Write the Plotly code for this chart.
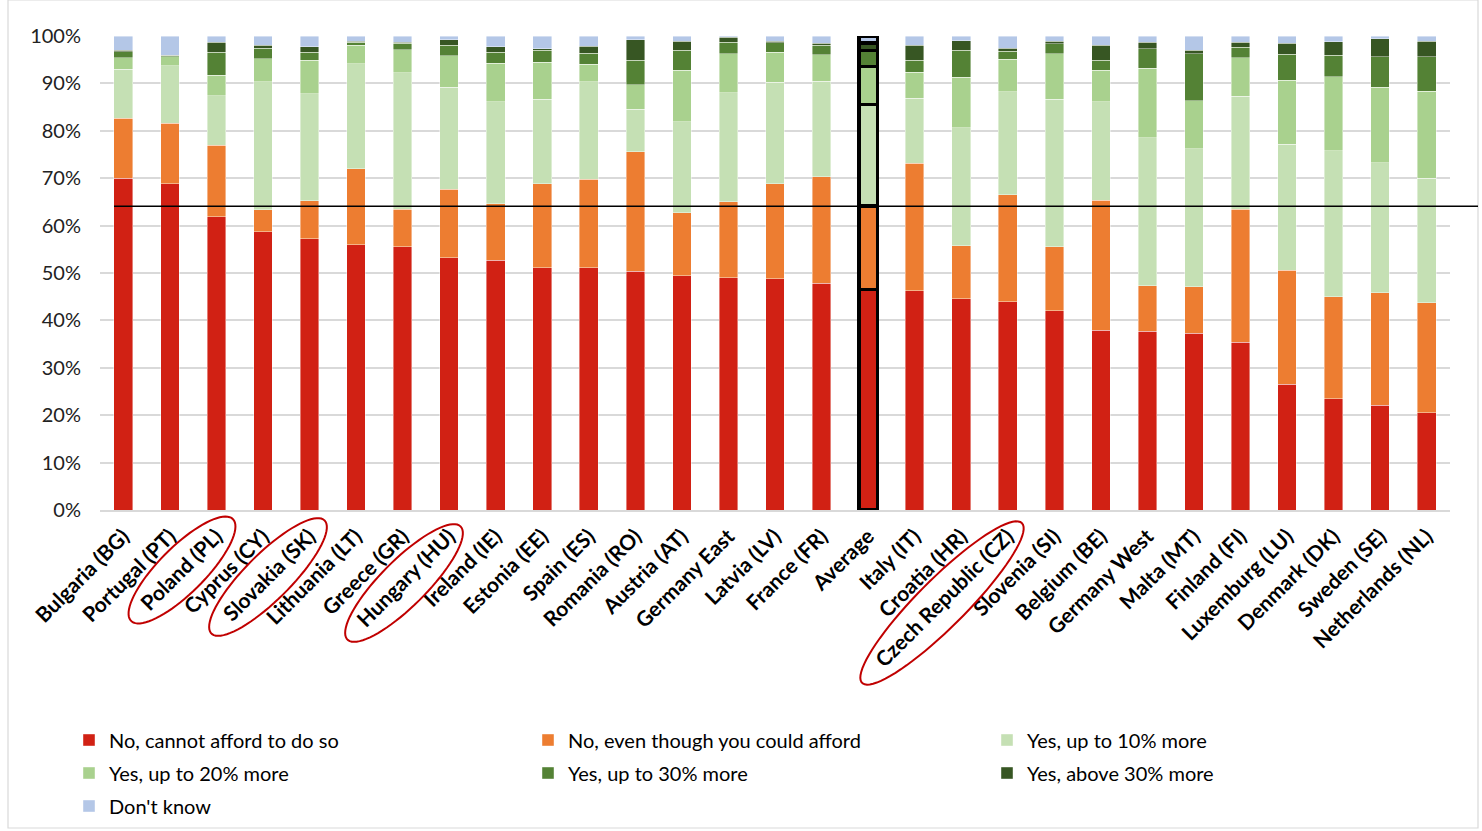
import numpy as np
import plotly.graph_objects as go

categories = ["Bulgaria (BG)", "Portugal (PT)", "Poland (PL)", "Cyprus (CY)", "Slovakia (SK)",
              "Lithuania (LT)", "Greece (GR)", "Hungary (HU)", "Ireland (IE)", "Estonia (EE)",
              "Spain (ES)", "Romania (RO)", "Austria (AT)", "Germany East", "Latvia (LV)",
              "France (FR)", "Average", "Italy (IT)", "Croatia (HR)", "Czech Republic (CZ)",
              "Slovenia (SI)", "Belgium (BE)", "Germany West", "Malta (MT)", "Finland (FI)",
              "Luxemburg (LU)", "Denmark (DK)", "Sweden (SE)", "Netherlands (NL)"]

no_cannot_afford = [70.0, 68.8, 61.9, 58.7, 57.2, 56.0, 55.5, 53.2, 52.7, 51.1, 51.1, 50.4, 49.4, 49.0, 48.8,
                    47.8, 46.5, 46.3, 44.6, 43.9, 42.0, 37.9, 37.7, 37.3, 35.4, 26.5, 23.5, 22.1, 20.5]
no_could_afford = [12.6, 12.8, 15.1, 4.6, 8.0, 16.0, 7.9, 14.5, 11.9, 17.7, 18.7, 25.2, 13.3, 16.0, 20.0,
                   22.5, 17.6, 26.9, 11.1, 22.6, 13.5, 27.5, 9.6, 9.8, 28.0, 24.1, 21.5, 23.7, 23.2]
yes_10 = [10.4, 12.1, 10.4, 27.0, 22.6, 22.1, 28.8, 21.5, 21.5, 17.9, 20.5, 9.0, 19.2, 23.0, 21.4,
          20.2, 21.4, 13.7, 24.9, 21.7, 31.2, 20.7, 31.2, 29.1, 23.9, 26.6, 30.8, 27.5, 26.3]
yes_20 = [2.4, 1.9, 4.3, 4.9, 7.1, 3.9, 4.9, 6.6, 8.1, 7.8, 3.7, 5.1, 10.9, 8.3, 6.4,
          5.5, 8.1, 5.5, 10.7, 6.9, 9.6, 6.7, 14.7, 10.1, 8.1, 13.5, 15.6, 15.9, 18.3]
yes_30 = [1.3, 0.2, 4.9, 2.2, 1.7, 0.7, 1.4, 2.2, 2.4, 2.5, 2.4, 5.2, 4.2, 2.4, 2.0,
          2.1, 3.3, 2.5, 5.7, 1.7, 2.1, 2.1, 4.1, 10.0, 2.2, 5.4, 4.5, 6.4, 7.3]
yes_above_30 = [0.3, 0.1, 2.1, 0.6, 1.1, 0.2, 0.2, 1.2, 1.1, 0.3, 1.4, 4.3, 1.9, 1.0, 0.3,
                0.4, 1.6, 3.1, 2.0, 0.6, 0.5, 3.2, 1.4, 0.7, 1.1, 2.4, 2.9, 3.8, 3.3]
dont_know = [3.0, 4.1, 1.3, 2.0, 2.3, 1.1, 1.3, 0.8, 2.3, 2.7, 2.2, 0.8, 1.1, 0.3, 1.1,
             1.5, 1.5, 2.0, 1.0, 2.6, 1.1, 1.9, 1.3, 3.0, 1.3, 1.5, 1.2, 0.6, 1.1]

series_names = ["No, cannot afford to do so", "No, even though you could afford", "Yes, up to 10% more",
                "Yes, up to 20% more", "Yes, up to 30% more", "Yes, above 30% more", "Don't know"]
series_values = [no_cannot_afford, no_could_afford, yes_10, yes_20, yes_30, yes_above_30, dont_know]
series_colors = ["#D12114", "#ED7D31", "#C5E0B4", "#A9D18E", "#548235", "#375623", "#B4C7E7"]
highlighted = ["Poland (PL)", "Slovakia (SK)", "Hungary (HU)", "Czech Republic (CZ)"]
y_ticks = list(range(0, 101, 10))
y_tick_labels = [f"{v}%" for v in y_ticks]

W, H = 1482, 831
FONT = "Lato"

fig = go.Figure()
line_w = [3.5 if c == "Average" else 0.6 for c in categories]
line_c = ["black" if c == "Average" else "rgba(255,255,255,0.7)" for c in categories]
legend_ids = ["legend", "legend", "legend", "legend2", "legend2", "legend2", "legend3"]
for name, vals, col, lg in zip(series_names, series_values, series_colors, legend_ids):
    fig.add_trace(go.Bar(x=categories, y=vals, name=name, marker_color=col,
                         marker_line_width=line_w, marker_line_color=line_c, legend=lg))

# plot area in pixels
px_left, px_right, px_top, px_bottom = 100, 1450, 36, 510
leg_common = dict(orientation="h", xanchor="left", yanchor="middle",
                  entrywidth=414, entrywidthmode="pixels", traceorder="normal",
                  font=dict(family=FONT, size=20, color="#000000"), itemwidth=30,
                  bgcolor="rgba(0,0,0,0)")
leg_x = 69 / W
fig.update_layout(
    width=W, height=H, barmode="stack", bargap=0.6,
    margin=dict(l=0, r=0, t=0, b=0, autoexpand=False),
    paper_bgcolor="white", plot_bgcolor="white",
    font=dict(family=FONT, size=19, color="#000000"),
    xaxis=dict(domain=[px_left / W, px_right / W], tickangle=-45, automargin=False,
               tickfont=dict(family=FONT, size=21, color="#000000", weight="bold"),
               showline=True, linecolor="#d9d9d9", linewidth=1.5, ticks="", showgrid=False,
               ticklabelstandoff=4),
    yaxis=dict(domain=[1 - px_bottom / H, 1 - px_top / H], range=[0, 100], automargin=False,
               tickmode="array", tickvals=y_ticks, ticktext=y_tick_labels,
               tickfont=dict(family=FONT, size=20, color="#222222"),
               showgrid=True, gridcolor="#d9d9d9", gridwidth=1.5, zeroline=False,
               ticks="", ticklabelstandoff=18),
    legend=dict(**leg_common, x=leg_x, y=1 - 740 / H),
    legend2=dict(**leg_common, x=leg_x, y=1 - 773 / H),
    legend3=dict(**leg_common, x=leg_x, y=1 - 806 / H),
    showlegend=True,
)

# horizontal reference line at the Average "No" total
avg_i = categories.index("Average")
avg_no = no_cannot_afford[avg_i] + no_could_afford[avg_i]
fig.add_shape(type="line", xref="paper", yref="y", x0=114 / W, x1=1478 / W, y0=avg_no, y1=avg_no,
              line=dict(color="black", width=1.5))

# red ellipses around highlighted labels (decoration, pixel positions)
ellipses = {"Poland (PL)": (182, 570, 72, 23), "Slovakia (SK)": (268, 577, 80, 23),
            "Hungary (HU)": (404, 583, 80, 23), "Czech Republic (CZ)": (942, 603, 113, 24)}
t = np.linspace(0, 2 * np.pi, 80)
ang = np.deg2rad(45)
for lab in highlighted:
    cx, cy, a, b = ellipses[lab]
    ex = cx + a * np.cos(t) * np.cos(ang) - b * np.sin(t) * np.sin(ang)
    ey = cy - (a * np.cos(t) * np.sin(ang) + b * np.sin(t) * np.cos(ang))
    path = "M " + " L ".join(f"{x / W:.5f},{1 - y / H:.5f}" for x, y in zip(ex, ey)) + " Z"
    fig.add_shape(type="path", xref="paper", yref="paper", path=path,
                  line=dict(color="#C00000", width=2))

# outer chart border
fig.add_shape(type="rect", xref="paper", yref="paper", x0=8 / W, x1=1478 / W, y0=3 / H, y1=1.0,
              line=dict(color="#d9d9d9", width=1.2), fillcolor="rgba(0,0,0,0)", layer="below")

fig.write_html("out.html")
